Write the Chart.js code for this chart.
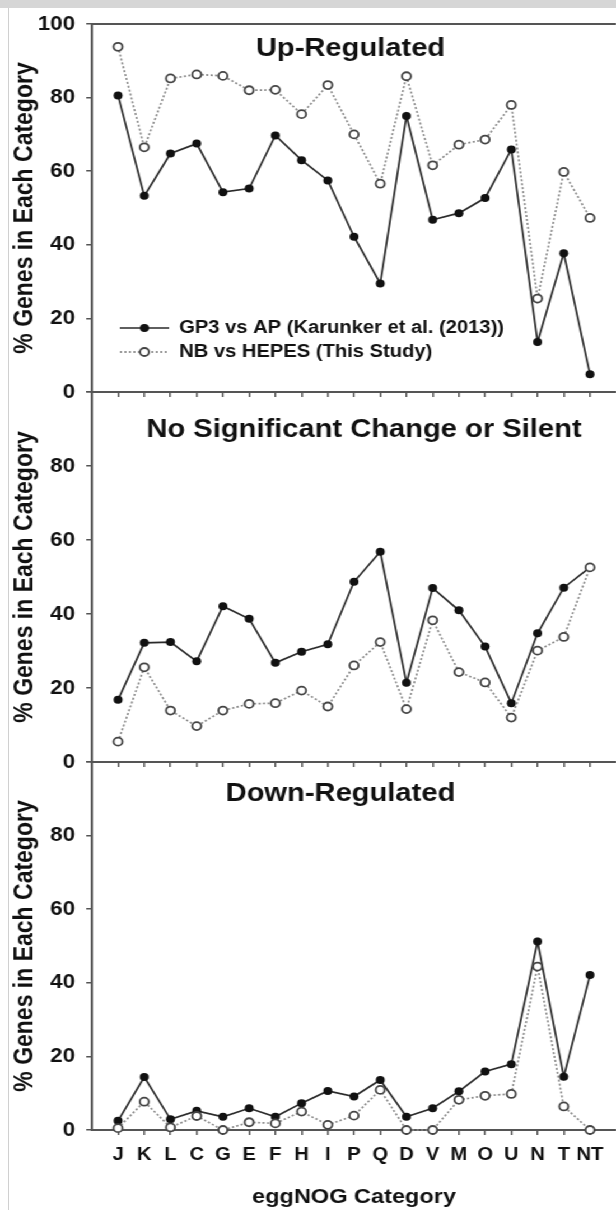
<!DOCTYPE html>
<html>
<head>
<meta charset="utf-8">
<script src="https://cdn.jsdelivr.net/npm/chart.js@4"></script>
<style>
  html, body { margin: 0; padding: 0; background: #fff; overflow: hidden; width: 616px; height: 1210px; }
  #topband { position: absolute; left: 0; top: 0; width: 616px; height: 8px; background: #d6d6d6; z-index: 2; }
  #leftline { position: absolute; left: 8px; top: 8px; width: 1px; height: 1202px; background: #d0d0d0; z-index: 2; }
  #wrap { position: absolute; left: 0; top: 0; width: 556px; height: 1210px; transform: scaleX(1.12); transform-origin: 0 0; }
  #wrap canvas { position: absolute; left: 0; }
</style>
</head>
<body>
<div id="topband"></div>
<div id="leftline"></div>
<div id="wrap">
  <canvas id="up" width="556" height="416" style="top:0px"></canvas>
  <canvas id="none" width="556" height="418" style="top:368px"></canvas>
  <canvas id="down" width="556" height="472" style="top:738px"></canvas>
</div>
<script>
// eggNOG categories along the x axis
const categories = ['J', 'K', 'L', 'C', 'G', 'E', 'F', 'H', 'I', 'P', 'Q', 'D', 'V', 'M', 'O', 'U', 'N', 'T', 'NT'];

// % genes in each category
const upGP3 = [80.6, 53.3, 64.8, 67.5, 54.3, 55.3, 69.7, 63.0, 57.5, 42.2, 29.5, 75.0, 46.8, 48.6, 52.7, 65.9, 13.6, 37.7, 4.8];
const upNB = [93.8, 66.5, 85.2, 86.3, 85.9, 82.0, 82.1, 75.5, 83.4, 70.0, 56.6, 85.8, 61.6, 67.2, 68.6, 78.0, 25.4, 59.8, 47.3];
const noChangeGP3 = [16.8, 32.2, 32.4, 27.2, 42.1, 38.7, 26.8, 29.8, 31.8, 48.7, 56.8, 21.4, 47.0, 41.0, 31.2, 15.9, 34.8, 47.1, 52.6];
const noChangeNB = [5.5, 25.6, 13.9, 9.7, 13.9, 15.7, 15.9, 19.3, 15.0, 26.1, 32.4, 14.3, 38.3, 24.3, 21.5, 12.0, 30.1, 33.8, 52.6];
const downGP3 = [2.5, 14.4, 2.9, 5.2, 3.6, 5.9, 3.6, 7.3, 10.6, 9.1, 13.6, 3.6, 5.9, 10.5, 15.9, 17.9, 51.2, 14.5, 42.1];
const downNB = [0.5, 7.7, 0.7, 3.8, 0, 2.1, 1.8, 5.0, 1.4, 3.9, 10.9, 0, 0, 8.2, 9.3, 9.8, 44.4, 6.4, 0];

const yTicks = [0, 20, 40, 60, 80, 100];
const seriesNames = ['GP3 vs AP (Karunker et al. (2013))', 'NB vs HEPES (This Study)'];

const FONT = '"Liberation Sans", Arial, Helvetica, sans-serif';
const AXIS = '#555';

function points(values) {
    return values.map((v, i) => ({ x: i + 1, y: v }));
}

// titles + legend drawn inside the plot area
const panelText = {
    id: 'panelText',
    afterDraw(chart, args, opts) {
        const ctx = chart.ctx;
        ctx.save();
        ctx.fillStyle = '#111';
        ctx.textAlign = 'center';
        ctx.textBaseline = 'middle';
        ctx.font = 'bold 26px ' + FONT;
        ctx.fillText(opts.title, opts.tx, opts.ty);

        if (opts.frameTop) {
            const a = chart.chartArea;
            ctx.strokeStyle = AXIS;
            ctx.lineWidth = 2;
            ctx.beginPath();
            ctx.moveTo(a.left - 1, a.top);
            ctx.lineTo(a.right, a.top);
            ctx.stroke();
        }

        if (opts.legend) {
            const rows = [328, 352];
            rows.forEach((y, i) => {
                ctx.save();
                ctx.lineWidth = 1.7;
                if (i === 0) {
                    ctx.strokeStyle = '#2a2a2a';
                } else {
                    ctx.strokeStyle = '#8c8c8c';
                    ctx.setLineDash([2, 2]);
                }
                ctx.beginPath();
                ctx.moveTo(107, y);
                ctx.lineTo(151, y);
                ctx.stroke();
                ctx.setLineDash([]);
                ctx.beginPath();
                ctx.arc(129, y, 4, 0, Math.PI * 2);
                if (i === 0) {
                    ctx.fillStyle = '#111';
                    ctx.fill();
                } else {
                    ctx.fillStyle = '#fff';
                    ctx.fill();
                    ctx.lineWidth = 1.8;
                    ctx.strokeStyle = '#444';
                    ctx.stroke();
                }
                ctx.restore();
                ctx.fillStyle = '#111';
                ctx.textAlign = 'left';
                ctx.font = 'bold 18px ' + FONT;
                ctx.fillText(seriesNames[i], 160, y);
            });
        }
        ctx.restore();
    }
};

function makePanel(id, gp3, nb, opts) {
    const ctx = document.getElementById(id).getContext('2d');
    return new Chart(ctx, {
        type: 'line',
        data: {
            datasets: [
                {
                    // drawn on top
                    label: seriesNames[1],
                    data: points(nb),
                    borderColor: '#8c8c8c',
                    borderWidth: 1.7,
                    borderDash: [2, 2],
                    pointRadius: 4,
                    pointBorderWidth: 1.8,
                    pointBorderColor: '#444',
                    pointBackgroundColor: '#fff',
                    tension: 0,
                    clip: false
                },
                {
                    label: seriesNames[0],
                    data: points(gp3),
                    borderColor: '#2a2a2a',
                    borderWidth: 1.7,
                    pointRadius: 4,
                    pointBorderWidth: 0,
                    pointBackgroundColor: '#111',
                    tension: 0,
                    clip: false
                }
            ]
        },
        options: {
            responsive: false,
            animation: false,
            devicePixelRatio: 1,
            layout: { padding: { top: 24, right: 3, left: 0, bottom: 0 } },
            scales: {
                x: {
                    type: 'linear',
                    min: 0,
                    max: categories.length + 1,
                    afterBuildTicks: s => { s.ticks = categories.map((c, i) => ({ value: i + 1 })); },
                    afterFit: s => { s.height = opts.xHeight; },
                    grid: { drawOnChartArea: false, drawTicks: true, tickLength: 5, color: AXIS, lineWidth: 1.5 },
                    border: { display: true, color: AXIS, width: 2 },
                    ticks: {
                        display: true,
                        autoSkip: false,
                        maxRotation: 0,
                        padding: 9,
                        color: opts.showX ? '#111' : 'rgba(0,0,0,0)',
                        font: { family: FONT, size: 18, weight: 'bold' },
                        callback: v => categories[v - 1]
                    },
                    title: {
                        display: opts.showX,
                        text: 'eggNOG Category',
                        color: '#111',
                        padding: { top: 0, bottom: 0 },
                        font: { family: FONT, size: 21, weight: 'bold' }
                    }
                },
                y: {
                    min: 0,
                    max: 100,
                    afterBuildTicks: s => { s.ticks = yTicks.map(v => ({ value: v })); },
                    afterFit: s => { s.width = 82; },
                    grid: { drawOnChartArea: false, drawTicks: true, tickLength: 5, color: AXIS, lineWidth: 1.5 },
                    border: { color: AXIS, width: 2 },
                    ticks: {
                        padding: 10,
                        color: '#111',
                        font: { family: FONT, size: 20, weight: 'bold' },
                        callback: v => (v === 100 && !opts.show100) ? '' : String(v)
                    },
                    title: {
                        display: true,
                        text: '% Genes in Each Category',
                        color: '#111',
                        padding: { top: 9, bottom: 0 },
                        font: { family: FONT, size: 23, weight: 'bold' }
                    }
                }
            },
            plugins: {
                legend: { display: false },
                tooltip: { enabled: false },
                panelText: {
                    title: opts.title,
                    tx: opts.tx,
                    ty: opts.ty,
                    legend: opts.legend,
                    frameTop: opts.frameTop
                }
            }
        },
        plugins: [panelText]
    });
}

makePanel('up', upGP3, upNB, {
    xHeight: 24, showX: false, show100: true,
    title: 'Up-Regulated', tx: 313, ty: 49, legend: true, frameTop: true
});
makePanel('none', noChangeGP3, noChangeNB, {
    xHeight: 24, showX: false, show100: false,
    title: 'No Significant Change or Silent', tx: 325, ty: 62, legend: false, frameTop: false
});
makePanel('down', downGP3, downNB, {
    xHeight: 80, showX: true, show100: false,
    title: 'Down-Regulated', tx: 304, ty: 56, legend: false, frameTop: false
});
</script>
</body>
</html>
